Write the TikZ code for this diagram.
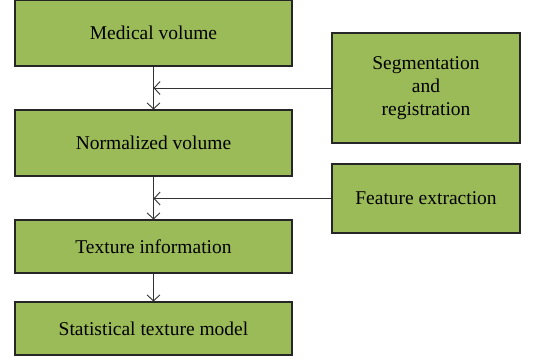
\documentclass[tikz,border=0pt]{standalone}
\usepackage{fontspec}
\setmainfont{Liberation Serif}
\usetikzlibrary{arrows.meta}
\definecolor{boxgreen}{HTML}{9BBB59}
\tikzset{
  stage/.style={draw=black!85, fill=boxgreen, line width=1.1pt, minimum width=277pt,
    align=center, font=\fontsize{19.5}{23}\selectfont, inner sep=0pt},
  side/.style={stage, minimum width=188pt},
  flow/.style={draw=black!80, line width=0.9pt, -{Straight Barb[length=6pt,width=13pt]}}
}
\begin{document}
\begin{tikzpicture}[x=1pt,y=-1pt]
\useasboundingbox (0,0) rectangle (548,362);
\node[stage, minimum height=66pt] (med) at (153.5,33) {Medical volume};
\node[stage, minimum height=66pt] (norm) at (153.5,143) {Normalized volume};
\node[stage, minimum height=53pt] (tex) at (153.5,246.5) {Texture information};
\node[stage, minimum height=53pt] (stat) at (153.5,328.5) {Statistical texture model};
\node[side, minimum height=110pt] (seg) at (426,88) {Segmentation\\and\\registration};
\node[side, minimum height=69pt] (feat) at (426,198.5) {Feature extraction};
\draw[flow] (med) -- (norm);
\draw[flow] (norm) -- (tex);
\draw[flow] (tex) -- (stat);
\draw[flow] (seg.west) -- (seg.west -| med.south);
\draw[flow] (feat.west) -- (feat.west -| norm.south);
\end{tikzpicture}
\end{document}
